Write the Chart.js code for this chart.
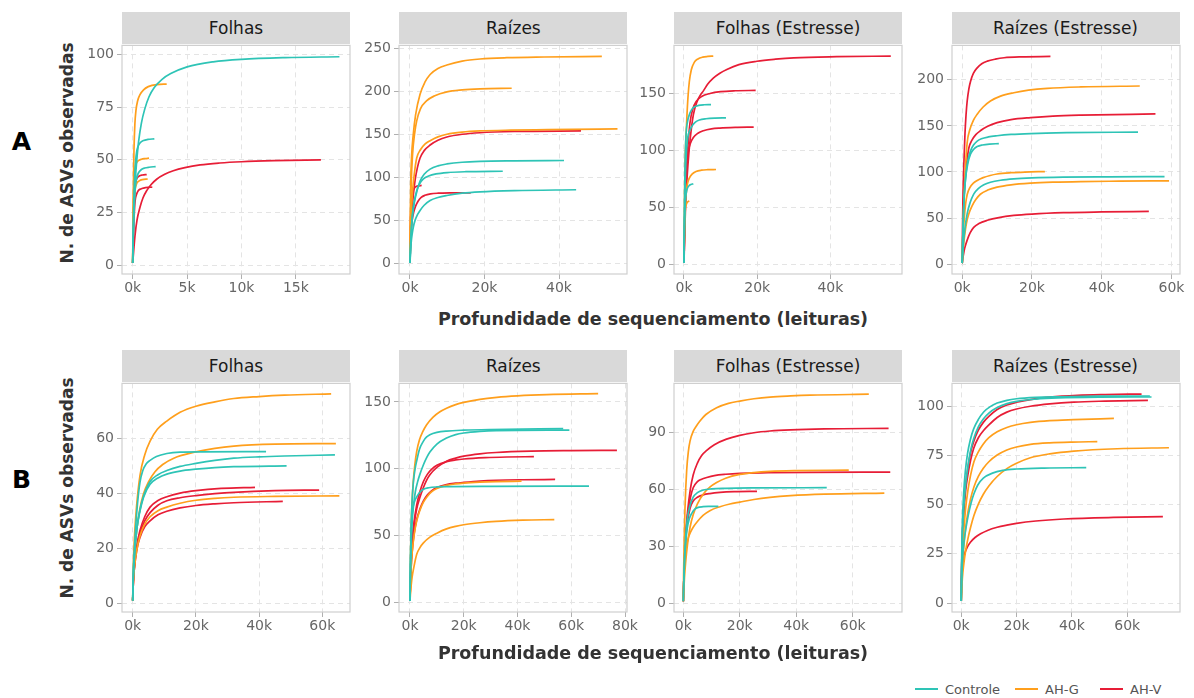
<!DOCTYPE html>
<html><head><meta charset="utf-8">
<script src="https://cdn.jsdelivr.net/npm/chart.js@4"></script>
<style>
html,body{margin:0;padding:0;background:#fff}
body{width:1194px;height:698px;position:relative;overflow:hidden;font-family:'DejaVu Sans',sans-serif}
.strip{position:absolute;background:#d9d9d9;color:#1a1a1a;font-size:17px;display:flex;align-items:center;justify-content:center;white-space:nowrap}
canvas{position:absolute}
.ytitle{position:absolute;font-weight:bold;font-size:17px;color:#333;transform:translate(-50%,-50%) rotate(-90deg);white-space:nowrap}
.xtitle{position:absolute;font-weight:bold;font-size:17.5px;color:#333;transform:translate(-50%,-50%);white-space:nowrap}
.tag{position:absolute;font-weight:bold;font-size:25px;color:#000;transform:translate(-50%,-50%)}
.leg{position:absolute;top:680px;height:18px;display:flex;align-items:center;font-size:13px;color:#555}
.leg span.l{display:inline-block;width:23px;height:2px;margin-right:7px}
</style>
</head><body>
<script>
// ---------- DATA ----------
const groupNames = ['Controle', 'AH-G', 'AH-V'];
const panelTitles = ['Folhas', 'Raízes', 'Folhas (Estresse)', 'Raízes (Estresse)'];

// Row A
const A1_controle = [
 [[0,1],[60,15],[150,30],[250,41],[370,49.5],[550,59],[800,67.5],[1100,74],[1500,80],[2000,84.5],[2700,88.3],[3500,91],[5000,94.2],[7400,96.6],[10000,97.8],[14000,98.6],[19000,99]],
 [[0,1],[40,15],[100,30],[180,42],[270,49.5],[370,54],[500,56.5],[670,58],[1000,59.2],[1400,59.7],[1990,60]],
 [[0,1],[40,12],[100,24],[180,33],[270,38.5],[370,41.6],[550,44],[800,45.4],[1100,46.1],[1500,46.5],[2110,46.8]]
];
const A1_ahg = [
 [[0,1],[30,20],[70,40],[120,55],[200,67],[300,73.5],[450,78],[670,81],[1000,83.3],[1430,84.8],[2200,85.8],[3125,86]],
 [[0,1],[30,18],[70,32],[130,41],[211,46],[350,48.5],[520,49.6],[800,50.3],[1150,50.6],[1500,50.8]],
 [[0,1],[30,13],[70,24],[130,31],[220,35.8],[367,38.8],[600,40],[900,40.6],[1380,40.9]]
];
const A1_ahv = [
 [[0,1],[30,13],[80,25],[140,32.5],[220,37.5],[370,41],[600,42.3],[900,42.8],[1286,43]],
 [[0,1],[40,8],[100,19],[211,30],[350,33.5],[520,35.4],[750,36.2],[1000,36.6],[1400,36.9],[1800,37]],
 [[0,1],[80,6],[211,14],[400,21.5],[671,27.5],[950,32],[1290,35.4],[1700,38.3],[2200,40.8],[2900,43],[3730,44.8],[4800,46.3],[6200,47.6],[8000,48.5],[10000,49.1],[13000,49.6],[17300,50]]
];

const A2_controle = [
 [[0,1],[100,15],[300,35],[700,57],[1200,72],[1900,85],[2700,96],[3800,104],[5400,110],[7500,113.8],[9900,116],[14000,118],[18800,119],[28000,119.6],[41350,120]],
 [[0,1],[100,15],[300,35],[600,55],[1000,69],[1800,85],[2600,93],[3600,98.6],[5000,102],[7000,104.4],[10000,106],[15000,107],[24900,107.5]],
 [[0,1],[100,10],[300,24],[600,35],[900,42.7],[1400,51],[2000,57],[2700,62],[3800,68],[5400,73.5],[7500,77],[9900,79.3],[14000,82],[18800,83.6],[28000,85],[44600,86]]
];
const A2_ahg = [
 [[0,1],[60,40],[180,89],[400,122],[900,151],[1500,173],[2700,197],[4000,211],[5400,220],[7500,227],[9900,231],[14000,235.5],[18800,238],[26000,239.5],[36000,240.3],[51500,241]],
 [[0,1],[100,45],[300,90],[700,128],[1200,150],[1800,166],[2800,180],[4500,189.5],[6500,195],[9900,199.8],[14000,202],[18800,203.2],[27300,204]],
 [[0,1],[100,25],[300,55],[700,85],[1200,106],[1800,123],[2800,132.5],[4000,139],[5400,143],[7500,147.5],[9900,150.5],[14000,153],[18800,154.4],[27000,155.3],[37000,155.8],[55700,156.7]]
];
const A2_ahv = [
 [[0,1],[100,20],[300,45],[600,66],[900,80],[1400,98],[2000,112],[2700,123],[3800,131.5],[5400,138],[7500,143.5],[9900,147.3],[14000,150.5],[18800,152.3],[28000,153.7],[45900,154.4]],
 [[0,1],[50,25],[150,52],[300,68],[500,78],[800,84.5],[1200,88],[1700,89.8],[2300,90.6],[3130,91]],
 [[0,1],[100,20],[300,38],[600,51],[1000,60],[1500,67],[2200,73],[3000,77.2],[4000,79.6],[5500,81.2],[7500,82],[11000,82.4],[16300,82.5]]
];

const A3_controle = [
 [[0,1],[50,22],[150,55],[300,88],[546,113],[900,124],[1450,131],[2100,135.5],[2800,137.8],[4000,139.2],[5500,139.8],[7380,140]],
 [[0,1],[60,20],[150,45],[300,70],[550,92],[1000,110.5],[1600,117.5],[2370,122],[3200,124.8],[4200,126.4],[6000,127.5],[8500,128.1],[11470,128.3]],
 [[0,1],[40,15],[120,33],[250,48],[450,58],[700,64],[1000,67],[1400,68.8],[1900,69.8],[2550,70.4]]
];
const A3_ahg = [
 [[0,1],[50,25],[150,60],[300,90],[546,112],[800,130],[1100,147],[1450,160],[2000,170.5],[2800,177],[3800,180],[5100,181.6],[6500,182.2],[8000,182.5]],
 [[0,1],[50,15],[150,33],[350,52],[730,66.5],[1100,72.5],[1450,75.5],[2200,79],[3280,81.3],[4800,82.4],[6500,82.8],[8740,83]],
 [[0,1],[40,15],[120,32],[250,43],[400,49],[600,52],[900,54.2],[1200,55],[1450,55.3]]
];
const A3_ahv = [
 [[0,1],[100,15],[365,45],[700,68],[1100,88],[1700,110],[2550,131],[3500,142],[4500,148.5],[5300,152],[6500,158],[8000,163.2],[9800,167.5],[11700,170.8],[15000,175],[19900,178],[25000,179.8],[30000,181],[41700,182],[56500,182.5]],
 [[0,1],[100,20],[300,50],[600,78],[1000,100],[1640,124],[2400,136],[3400,143],[4800,147],[7100,149.7],[10000,151.3],[14000,152.1],[19580,152.4]],
 [[0,1],[100,20],[300,48],[600,73],[900,89],[1180,99],[1700,105.5],[2550,111],[3800,114.8],[5300,117],[7500,118.6],[9800,119.3],[14000,119.9],[19040,120.2]]
];

const A4_controle = [
 [[0,1],[100,20],[300,48],[600,75],[1000,95],[1600,112],[2400,123],[3300,129.5],[4300,133.5],[5500,136],[7500,138],[10000,139.3],[14000,140.7],[19600,141.7],[30000,142.6],[50400,143.3]],
 [[0,1],[100,20],[300,48],[600,75],[1000,94],[1600,109],[2400,119.5],[3300,124.7],[4300,127.6],[5800,129.3],[7800,130.3],[10500,130.7]],
 [[0,1],[100,8],[300,20],[700,36],[1430,54.8],[2300,67],[3300,76],[4600,81.8],[6200,86],[8100,88.8],[11000,91],[14800,92.5],[20000,93.5],[29000,94.3],[42000,94.7],[58000,95]]
];
const A4_ahg = [
 [[0,1],[100,20],[300,50],[600,80],[1000,110],[1430,132],[2200,146],[3200,156],[4300,162.7],[6000,170.5],[8100,177],[11000,182.3],[14800,186],[19000,188.8],[24400,190.8],[34000,192.3],[50900,193.3]],
 [[0,1],[100,15],[300,33],[600,50],[1000,66],[1430,75.5],[2200,83],[3200,87.8],[4300,90.7],[6000,93.8],[8000,96.2],[10000,97.8],[14000,99.2],[18000,99.9],[23700,100.4]],
 [[0,1],[100,7],[300,17],[700,31],[1200,44],[1900,54.5],[2800,63],[3900,70],[5200,75.8],[7300,80.3],[10000,83.5],[14000,86],[19600,87.8],[26000,88.9],[34000,89.6],[45000,90],[59300,90.4]]
];
const A4_ahv = [
 [[0,1],[80,35],[200,68],[470,108],[800,142],[1100,162],[1430,177],[1900,190],[2400,198.5],[3200,207],[4300,213],[5600,217.5],[7200,220.3],[9500,222.5],[12000,224],[17000,225],[25300,225.4]],
 [[0,1],[100,18],[250,42],[470,68],[800,90],[1300,110],[1900,126],[2800,134.5],[3900,140.5],[5200,144.7],[7300,149.5],[10000,153.5],[14000,156.8],[19600,159],[26000,160.7],[34000,161.7],[55400,163]],
 [[0,1],[100,4],[300,9],[700,17],[1430,26],[2300,34],[3300,39.8],[4800,44],[7200,47.5],[10500,50.5],[14800,52.8],[20000,54.3],[29000,55.8],[40000,56.6],[53500,57.2]]
];

// Row B
const B1_controle = [
 [[0,1],[200,12],[500,19],[900,27],[1500,36],[2300,44],[3200,48.3],[4300,50.8],[5500,52],[7500,53.4],[10800,54.5],[15000,55],[22000,55.1],[42200,55.2]],
 [[0,1],[200,10],[600,18],[1300,27],[2200,33.5],[3500,39.2],[5500,44.3],[8000,46.8],[10800,48.3],[15000,49.8],[20000,50.9],[26000,52],[32000,52.8],[40000,53.3],[48000,53.6],[64000,54]],
 [[0,1],[200,10],[600,18],[1300,27],[2200,33],[3500,38.8],[5500,43.3],[8000,45.6],[10800,47],[15000,48.1],[20000,48.8],[26000,49.4],[32000,49.7],[48700,50]]
];
const B1_ahg = [
 [[0,1],[200,14],[600,25],[1200,35],[2300,46.5],[3800,54],[5500,59],[7800,63.3],[10800,66.3],[15000,69.5],[20000,71.7],[26000,73.3],[32000,74.5],[40000,75.2],[48000,75.7],[62800,76.2]],
 [[0,1],[200,10],[600,18],[1300,27],[2300,34.5],[3400,39.8],[5000,44.2],[7000,47.8],[9500,50.5],[13000,52.8],[20000,55.1],[26000,56.4],[32000,57.2],[45000,57.9],[64300,58.1]],
 [[0,1],[200,7.5],[600,13.5],[1300,19.5],[2300,24.5],[3800,28.8],[5500,31.5],[8000,33.7],[10800,35],[15000,36.4],[20000,37.5],[26000,38.2],[32000,38.6],[45000,38.9],[65400,39.1]]
];
const B1_ahv = [
 [[0,1],[200,8],[600,14.5],[1300,21],[2300,26.5],[3800,31.5],[5500,35],[8000,37.4],[10800,38.8],[15000,40.1],[20000,41],[28000,41.8],[38700,42.2]],
 [[0,1],[200,8],[600,14],[1300,20.5],[2300,25.5],[3800,30],[5500,33],[8000,35.7],[10800,37.3],[15000,38.4],[20000,39.2],[26000,39.9],[32000,40.4],[45000,41],[59000,41.2]],
 [[0,1],[200,7.5],[600,13.5],[1300,19.5],[2300,24],[3800,27.8],[5500,30],[8000,32.2],[10800,33.5],[15000,34.7],[20000,35.6],[26000,36.2],[32000,36.6],[47500,37.1]]
];

const B2_controle = [
 [[0,1],[150,30],[400,55],[800,77],[1300,91],[1900,100],[2500,106],[3500,114.5],[5000,120.7],[6200,123.8],[7400,125.5],[10000,127.2],[13600,128.2],[20000,128.9],[30000,129.4],[57000,130]],
 [[0,1],[150,22],[400,42],[800,60],[1300,72],[2000,83],[2800,90],[3700,96],[5000,103],[6200,108.3],[7400,112.5],[10000,118.5],[13600,123],[17000,125.6],[20000,126.8],[26000,128],[32000,128.6],[59300,129]],
 [[0,1],[100,20],[300,42],[620,61],[1000,69.5],[1600,75],[2500,79],[3500,82],[5000,84.6],[7000,85.8],[10000,86.4],[15000,86.6],[30000,86.8],[66600,87]]
];
const B2_ahg = [
 [[0,1],[150,30],[400,55],[700,72],[1200,90],[1800,103],[2500,113],[3500,121.5],[4800,128],[6200,133],[8500,138.5],[11000,142.5],[13600,145.3],[17000,148],[20000,149.7],[26000,152],[32300,153.5],[40000,154.6],[50900,155.5],[70000,156.2]],
 [[0,1],[150,12],[400,25],[800,37],[1500,50],[2500,61],[3700,69],[5000,75],[6500,79.5],[8000,82.8],[10000,85.3],[13600,87.6],[17000,88.7],[20000,89.3],[26000,90],[32000,90.4],[41500,90.7]],
 [[0,1],[150,6],[400,12],[800,19],[1500,27],[2500,36],[3700,41],[5000,44.5],[7400,48.8],[10000,51.8],[13600,55],[17000,56.9],[20000,58.1],[26000,59.6],[32000,60.6],[42000,61.5],[53700,62]]
];
const B2_ahv = [
 [[0,1],[150,15],[400,30],[800,45],[1500,58],[2500,70],[3700,78.6],[5000,86],[6200,91.5],[7400,95.5],[10000,101],[13600,105.7],[17000,108],[20000,109.5],[26000,111.2],[32000,112.2],[45000,113.2],[60000,113.6],[77000,113.8]],
 [[0,1],[150,15],[400,30],[800,45],[1500,60],[2500,73],[3700,83],[5000,90.5],[6500,96],[8000,99.5],[10000,102.6],[13600,105.3],[17000,106.6],[20000,107.3],[28000,108.3],[36000,108.8],[46100,109.1]],
 [[0,1],[150,13],[400,26],[800,38],[1500,51],[2500,62],[3700,70],[5000,76],[6500,80.5],[8000,83.5],[10000,86],[13600,88.2],[17000,89.2],[20000,89.8],[26000,90.8],[32000,91.4],[42000,91.8],[54000,92]]
];

const B3_controle = [
 [[0,1],[150,10],[400,22],[800,34],[1400,44],[2200,50.5],[3500,55.8],[5000,58.2],[7100,59.6],[10000,60.2],[15000,60.5],[25000,60.7],[50800,60.8]],
 [[0,1],[150,10],[400,21],[800,31],[1400,39.5],[2100,44.3],[3000,47.3],[4000,49.4],[5000,50.3],[7000,50.8],[9500,50.95],[12400,51]]
];
const B3_ahg = [
 [[0,1],[100,14],[300,32],[600,50],[1200,70],[1800,80],[2400,85.5],[3500,90.5],[4700,93.5],[5900,96],[8000,99.4],[11800,103],[16000,105.3],[20000,106.5],[25000,107.7],[30700,108.6],[38000,109.2],[45000,109.6],[65700,110.1]],
 [[0,1],[150,6],[400,13],[800,21],[1500,31],[2400,40],[3500,46.5],[5000,52.3],[7100,57.5],[9500,61.2],[11800,63.5],[15000,65.8],[20000,67.8],[25000,68.8],[30700,69.4],[40000,69.8],[58600,70.1]],
 [[0,1],[150,9],[350,17],[600,24],[1100,30],[1800,34.5],[2600,37.5],[3500,40],[5000,43],[7000,46.2],[9400,48.7],[13000,50.8],[16500,52.2],[20000,53.2],[25000,54.6],[30700,55.7],[38000,56.6],[50000,57.4],[71200,58]]
];
const B3_ahv = [
 [[0,1],[150,10],[400,22],[800,35],[1500,48],[2500,60],[3500,67.5],[5000,73.8],[6500,77.8],[8300,80.5],[11000,83.5],[15300,86.4],[20000,88.4],[25000,89.8],[30700,90.7],[38000,91.3],[50000,91.8],[72700,92.1]],
 [[0,1],[150,10],[400,22],[800,34],[1500,46],[2500,55.5],[3500,60.8],[5000,64],[6500,65.3],[8300,66.2],[11000,67.2],[15000,67.9],[20000,68.4],[30000,68.7],[45000,68.9],[73300,69]],
 [[0,1],[150,10],[400,22],[800,33],[1500,43],[2400,50],[3500,53.8],[5000,55.8],[7000,57],[9400,57.7],[13000,58.3],[18000,58.7],[26100,58.9]]
];

const B4_controle = [
 [[0,1],[100,15],[250,30],[500,44],[900,56],[1500,67],[2300,76],[3300,83],[4500,88.5],[6200,93.3],[8200,97.2],[10500,99.8],[13000,101.6],[16500,103],[20000,103.8],[27000,104.5],[35000,104.8],[50000,105.1],[68200,105.2]],
 [[0,1],[100,13],[300,28],[600,40],[1000,50],[1600,60],[2400,69],[3400,77.5],[4500,83.5],[6200,89.5],[8000,93.5],[10000,96.5],[13000,99.3],[16500,101.3],[20000,102.5],[27000,103.6],[35000,104.2],[50000,104.6],[68800,104.7]],
 [[0,1],[100,8],[300,17],[600,25],[1000,31],[1700,38],[2600,45],[3600,51],[4600,55.5],[6000,60],[8000,63.5],[11300,66],[15000,67.4],[20000,68.1],[30000,68.6],[45200,68.8]]
];
const B4_ahg = [
 [[0,1],[100,8],[300,19],[600,29],[1000,38],[1600,48],[2400,57],[3400,65],[4600,71.8],[6200,76.8],[8000,80.8],[10000,84],[13000,87],[16500,89.2],[20000,90.6],[25000,91.8],[32000,92.7],[40700,93.2],[55200,93.8]],
 [[0,1],[100,6],[300,14],[600,22],[1000,29.5],[1600,38],[2400,46],[3400,53],[4600,59],[6200,64.3],[8000,68.5],[10000,71.8],[13000,75.2],[16500,77.8],[20000,79.3],[25000,80.6],[32000,81.4],[40000,81.8],[49200,82]],
 [[0,1],[100,5],[300,10],[600,15.5],[1000,20.5],[1600,26.5],[2400,32.5],[3400,38.5],[4600,44.5],[6200,50.3],[8000,55.3],[10000,59.5],[13000,64.3],[16500,68.3],[20000,71],[25000,73.8],[32000,75.8],[40700,77.2],[56400,78.4],[75100,78.9]]
];
const B4_ahv = [
 [[0,1],[100,13],[300,28],[600,40],[1000,50],[1600,60],[2400,68.5],[3400,76.5],[4500,82],[6200,87.8],[8000,91.8],[10000,94.8],[13000,98.3],[16500,100.6],[20000,102],[25000,103.4],[32000,104.6],[42000,105.5],[52000,105.9],[65200,106.2]],
 [[0,1],[100,12],[300,26],[600,37],[1000,47],[1600,57],[2400,65],[3400,72.5],[4500,78.5],[6200,84],[8000,87.5],[10000,90.5],[13000,94.3],[16500,97],[20000,98.6],[25000,100],[32000,101.2],[40700,102.1],[52000,102.6],[67500,103]],
 [[0,1],[100,9],[360,18],[800,22.5],[1400,25.8],[2200,28.4],[3400,31],[5000,33.3],[7000,35.2],[9500,36.9],[13000,38.5],[16500,39.6],[20000,40.5],[27000,41.7],[37100,42.7],[55000,43.5],[72900,43.9]]
];

// tick values
const A1_xticks = [0, 5000, 10000, 15000];
const A1_yticks = [0, 25, 50, 75, 100];
const A2_xticks = [0, 20000, 40000];
const A2_yticks = [0, 50, 100, 150, 200, 250];
const A3_xticks = [0, 20000, 40000];
const A3_yticks = [0, 50, 100, 150];
const A4_xticks = [0, 20000, 40000, 60000];
const A4_yticks = [0, 50, 100, 150, 200];
const B1_xticks = [0, 20000, 40000, 60000];
const B1_yticks = [0, 20, 40, 60];
const B2_xticks = [0, 20000, 40000, 60000, 80000];
const B2_yticks = [0, 50, 100, 150];
const B3_xticks = [0, 20000, 40000, 60000];
const B3_yticks = [0, 30, 60, 90];
const B4_xticks = [0, 20000, 40000, 60000];
const B4_yticks = [0, 25, 50, 75, 100];

// ---------- STYLE / LAYOUT ----------
const COLORS = ['#2EC4B6', '#FF9F1C', '#E71D36'];
const PW = 228, PH = 230, YW = 45, PADT = 10, PADR = 18, XH = 32, STRIP = 32;
const COLS = [122, 399.3, 674, 951.5];
const ROWS = [44, 382];

const panels = [
 {col:0,row:0,title:panelTitles[0],groups:[A1_controle,A1_ahg,A1_ahv],xr:[-983,19972],yr:[-4.25,104.4],xt:A1_xticks,yt:A1_yticks},
 {col:1,row:0,title:panelTitles[1],groups:[A2_controle,A2_ahg,A2_ahv],xr:[-2953,58255],yr:[-11.9,253.8],xt:A2_xticks,yt:A2_yticks},
 {col:2,row:0,title:panelTitles[2],groups:[A3_controle,A3_ahg,A3_ahv],xr:[-2732,59563],yr:[-8.72,191.9],xt:A3_xticks,yt:A3_yticks},
 {col:3,row:0,title:panelTitles[3],groups:[A4_controle,A4_ahg,A4_ahv],xr:[-2924,62434],yr:[-10.8,237.4],xt:A4_xticks,yt:A4_yticks},
 {col:0,row:1,title:panelTitles[0],groups:[B1_controle,B1_ahg,B1_ahv],xr:[-3386,68766],yr:[-3.14,80],xt:B1_xticks,yt:B1_yticks},
 {col:1,row:1,title:panelTitles[1],groups:[B2_controle,B2_ahg,B2_ahv],xr:[-4093,80744],yr:[-7.2,163.9],xt:B2_xticks,yt:B2_yticks},
 {col:2,row:1,title:panelTitles[2],groups:[B3_controle,B3_ahg,B3_ahv],xr:[-3294,77457],yr:[-4.72,115.8],xt:B3_xticks,yt:B3_yticks},
 {col:3,row:1,title:panelTitles[3],groups:[B4_controle,B4_ahg,B4_ahv],xr:[-3325,79090],yr:[-4.55,111.6],xt:B4_xticks,yt:B4_yticks}
];

const frame = {
  id: 'frame',
  afterDatasetsDraw(chart) {
    const a = chart.chartArea, ctx = chart.ctx;
    ctx.save();
    ctx.strokeStyle = '#cfcfcf';
    ctx.lineWidth = 1.2;
    ctx.strokeRect(a.left, a.top, a.right - a.left, a.bottom - a.top);
    ctx.restore();
  }
};

Chart.defaults.font.family = "'DejaVu Sans', sans-serif";

function addDiv(cls, text, css) {
  const d = document.createElement('div');
  d.className = cls;
  if (text) d.textContent = text;
  Object.assign(d.style, css);
  document.body.appendChild(d);
  return d;
}

panels.forEach(p => {
  const left = COLS[p.col], top = ROWS[p.row];
  addDiv('strip', p.title, {left: left + 'px', top: (top - STRIP) + 'px', width: PW + 'px', height: STRIP + 'px'});
  const c = document.createElement('canvas');
  c.width = YW + PW + PADR;
  c.height = PADT + PH + XH;
  c.style.left = (left - YW) + 'px';
  c.style.top = (top - PADT) + 'px';
  document.body.appendChild(c);
  const datasets = [];
  p.groups.forEach((g, gi) => g.forEach(curve => datasets.push({
    label: groupNames[gi],
    data: curve.map(pt => ({x: pt[0], y: pt[1]})),
    borderColor: COLORS[gi],
    backgroundColor: COLORS[gi],
    borderWidth: 1.7,
    pointRadius: 0,
    fill: false,
    cubicInterpolationMode: 'monotone'
  })));
  const tickFont = {size: 14};
  new Chart(c, {
    type: 'line',
    data: {datasets},
    plugins: [frame],
    options: {
      responsive: false, animation: false, events: [],
      layout: {padding: {left: 0, top: PADT, right: PADR, bottom: 0}},
      plugins: {legend: {display: false}, tooltip: {enabled: false}},
      scales: {
        x: {
          type: 'linear', min: p.xr[0], max: p.xr[1],
          afterBuildTicks: s => { s.ticks = p.xt.map(v => ({value: v})); },
          afterFit: s => { s.height = XH; },
          ticks: {callback: v => (v / 1000) + 'k', maxRotation: 0, autoSkip: false, padding: 1, color: '#666', font: tickFont},
          grid: {color: '#e4e4e4', lineWidth: 1, tickColor: '#b0b0b0', tickLength: 5, drawTicks: true},
          border: {display: false, dash: [5, 4]}
        },
        y: {
          type: 'linear', min: p.yr[0], max: p.yr[1],
          afterBuildTicks: s => { s.ticks = p.yt.map(v => ({value: v})); },
          afterFit: s => { s.width = YW; },
          ticks: {autoSkip: false, padding: 3, color: '#666', font: tickFont},
          grid: {color: '#e4e4e4', lineWidth: 1, tickColor: '#b0b0b0', tickLength: 5, drawTicks: true},
          border: {display: false, dash: [5, 4]}
        }
      }
    }
  });
});

// titles and tags
addDiv('tag', 'A', {left: '21.5px', top: '141px'});
addDiv('tag', 'B', {left: '21.5px', top: '479px'});
addDiv('ytitle', 'N. de ASVs observadas', {left: '67px', top: '152.5px'});
addDiv('ytitle', 'N. de ASVs observadas', {left: '67px', top: '487.5px'});
addDiv('xtitle', 'Profundidade de sequenciamento (leituras)', {left: '653px', top: '319px'});
addDiv('xtitle', 'Profundidade de sequenciamento (leituras)', {left: '653px', top: '652.5px'});

// legend
const legX = [915, 1015, 1100];
groupNames.forEach((n, i) => {
  const d = addDiv('leg', '', {left: legX[i] + 'px'});
  const l = document.createElement('span'); l.className = 'l'; l.style.background = COLORS[i];
  d.appendChild(l);
  d.appendChild(document.createTextNode(n));
});
</script>
</body></html>
